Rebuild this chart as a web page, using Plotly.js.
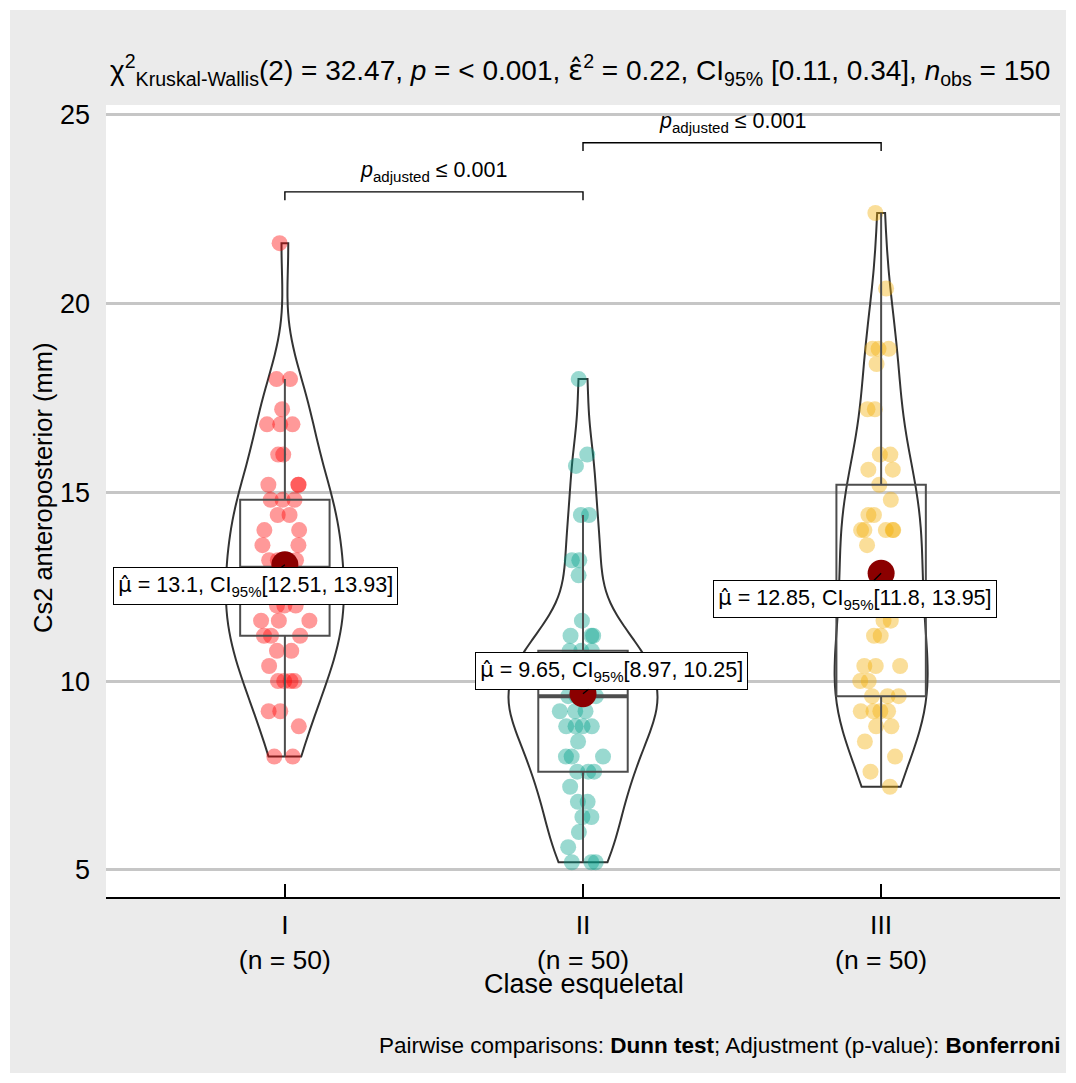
<!DOCTYPE html>
<html><head><meta charset="utf-8">
<script src="https://cdn.plot.ly/plotly-3.0.1.min.js"></script>
<style>html,body{margin:0;padding:0;background:#fff}</style>
</head><body><div id="chart" style="width:1076px;height:1083px"></div>
<script>
// ---------- data ----------
const categories = ['I', 'II', 'III'];
const groupN = [50, 50, 50];
const classI = [21.6, 18.0, 18.0, 17.2, 16.8, 16.8, 16.8, 16.0, 16.0, 15.2, 15.2, 15.2, 14.8, 14.8, 14.8,
  14.4, 14.4, 14.0, 14.0, 13.6, 13.6, 13.2, 13.2, 13.2, 13.2, 12.8, 12.8, 12.4, 12.4, 12.0, 12.0, 12.0,
  11.6, 11.6, 11.6, 11.2, 11.2, 11.2, 10.8, 10.8, 10.4, 10.0, 10.0, 10.0, 10.0, 9.2, 9.2, 8.8, 8.0, 8.0];
const classII = [18.0, 16.0, 15.7, 14.4, 14.4, 13.2, 13.2, 12.8, 11.6, 11.2, 11.2, 11.2, 10.8, 10.8, 10.8,
  10.4, 10.4, 10.4, 10.0, 10.0, 10.0, 9.6, 9.6, 9.6, 9.6, 9.6, 9.2, 9.2, 9.2, 8.8, 8.8, 8.8, 8.8, 8.4,
  8.0, 8.0, 8.0, 7.6, 7.6, 7.6, 7.2, 6.8, 6.8, 6.4, 6.4, 6.0, 5.6, 5.2, 5.2, 5.2];
const classIII = [22.4, 20.4, 18.8, 18.8, 18.8, 18.4, 17.2, 17.2, 16.0, 16.0, 15.6, 15.6, 15.2, 14.8, 14.4,
  14.4, 14.0, 14.0, 14.0, 14.0, 14.0, 13.6, 12.8, 12.4, 12.4, 12.4, 12.0, 12.0, 11.6, 11.6, 11.2, 11.2,
  10.4, 10.4, 10.4, 10.0, 10.0, 9.6, 9.6, 9.6, 9.2, 9.2, 9.2, 9.2, 8.8, 8.8, 8.4, 8.0, 7.6, 7.2];
const meanText = ['13.1', '9.65', '12.85'];
const ciLow = ['12.51', '8.97', '11.8'];
const ciHigh = ['13.93', '10.25', '13.95'];
const comparisons = [[0, 1], [1, 2]];
const comparisonText = ['≤ 0.001', '≤ 0.001'];
const bracketY = [22.96, 24.26];
const yTicks = [5, 10, 15, 20, 25];
const HAT = s => '<span style="font-family:\'DejaVu Sans\'">' + s + '</span>';
const titleText = 'χ<sup>2</sup><sub>Kruskal-Wallis</sub>(2) = 32.47, <i>p</i> = &lt; 0.001, ' + HAT('ε̂') +
  '<sup>2</sup> = 0.22, CI<sub>95%</sub> [0.11, 0.34], <i>n</i><sub>obs</sub> = 150';
const captionText = 'Pairwise comparisons: <b>Dunn test</b>; Adjustment (p-value): <b>Bonferroni</b>';
const xTitle = 'Clase esqueletal';
const yTitle = 'Cs2 anteroposterior (mm)';

// ---------- style ----------
const groups = [classI, classII, classIII];
const colors = ['#FF0000', '#00A08A', '#F2AD00'];
const FONT = 'Liberation Sans, Arial, sans-serif';
const W = 1076, H = 1083, ML = 106, MR = 16, MT = 105, MB = 186;
const PW = W - ML - MR, PH = H - MT - MB;
const px = x => (x - ML) / PW;
const py = y => (H - MB - y) / PH;

function sorted(a) { return a.slice().sort((p, q) => p - q); }
function q7(a, p) { const s = sorted(a); const h = (s.length - 1) * p; const lo = Math.floor(h); return s[lo] + (h - lo) * ((s[Math.min(lo + 1, s.length - 1)]) - s[lo]); }
function mean(a) { return a.reduce((s, v) => s + v, 0) / a.length; }
function sd(a) { const m = mean(a); return Math.sqrt(a.reduce((s, v) => s + (v - m) * (v - m), 0) / (a.length - 1)); }
function nrd0(a) { return 0.9 * Math.min(sd(a), (q7(a, 0.75) - q7(a, 0.25)) / 1.34) * Math.pow(a.length, -0.2); }
function kdeMax(a, bw) {
  const lo = Math.min(...a), hi = Math.max(...a); let m = 0;
  for (let k = 0; k <= 511; k++) {
    const t = lo + (hi - lo) * k / 511; let s = 0;
    a.forEach(v => { const z = (t - v) / bw; s += Math.exp(-0.5 * z * z); });
    m = Math.max(m, s / (a.length * bw * Math.sqrt(2 * Math.PI)));
  }
  return m;
}
const bws = groups.map(nrd0);
const kmax = groups.map((g, i) => kdeMax(g, bws[i]));
const kTop = Math.max(...kmax);

const traces = [];
// jittered points
groups.forEach((g, i) => {
  traces.push({
    type: 'box', x: g.map(() => i), y: g, width: 0.3,
    boxpoints: 'all', jitter: 0.62, pointpos: 0,
    line: { width: 0, color: 'rgba(0,0,0,0)' }, fillcolor: 'rgba(0,0,0,0)',
    marker: { color: colors[i], opacity: 0.4, size: 16, line: { width: 0 } },
    showlegend: false, hoverinfo: 'skip'
  });
});
// boxes
groups.forEach((g, i) => {
  traces.push({
    type: 'box', x: g.map(() => i), y: g, width: 0.3, quartilemethod: 'exclusive',
    boxpoints: 'outliers', whiskerwidth: 0,
    line: { width: 2, color: '#4D4D4D' }, fillcolor: 'rgba(0,0,0,0)',
    marker: { opacity: 0, size: 1 },
    showlegend: false, hoverinfo: 'skip'
  });
  const med = q7(g, 0.5);
  traces.push({
    type: 'scatter', mode: 'lines', x: [i - 0.15, i + 0.15], y: [med, med],
    line: { color: '#4D4D4D', width: 4 }, showlegend: false, hoverinfo: 'skip'
  });
});
// violins (area-scaled like ggplot: widest density gets width 0.5)
groups.forEach((g, i) => {
  traces.push({
    type: 'violin', x: g.map(() => i), y: g, width: 0.5 * kmax[i] / kTop,
    scalemode: 'width', scalegroup: 'v' + i, spanmode: 'hard', bandwidth: bws[i],
    points: false, box: { visible: false }, meanline: { visible: false },
    line: { color: '#333333', width: 2 }, fillcolor: 'rgba(255,255,255,0)',
    showlegend: false, hoverinfo: 'skip'
  });
});
// brackets
comparisons.forEach((c, k) => {
  const y = bracketY[k];
  traces.push({
    type: 'scatter', mode: 'lines', x: [c[0], c[0], c[1], c[1]], y: [y - 0.22, y, y, y - 0.22],
    line: { color: '#000', width: 1.4 }, showlegend: false, hoverinfo: 'skip'
  });
});
// means
const means = groups.map(mean);
traces.push({
  type: 'scatter', mode: 'markers', x: [0, 1, 2], y: means,
  marker: { color: '#8B0000', size: 27 }, showlegend: false, hoverinfo: 'skip'
});

const labelOffsets = [[-29, 21], [28, -23], [-26, 26]];
const annotations = [];
means.forEach((m, i) => {
  annotations.push({
    x: i, y: m, xref: 'x', yref: 'y',
    text: HAT('μ̂') + ' = ' + meanText[i] + ', CI<sub>95%</sub>[' + ciLow[i] + ', ' + ciHigh[i] + ']',
    showarrow: true, arrowhead: 0, arrowwidth: 1.3, arrowcolor: '#000', standoff: 0,
    ax: labelOffsets[i][0], ay: labelOffsets[i][1],
    bgcolor: '#fff', bordercolor: '#000', borderwidth: 1, borderpad: 4,
    font: { family: FONT, size: 21.5, color: '#000' }
  });
});
comparisons.forEach((c, k) => {
  annotations.push({
    x: (c[0] + c[1]) / 2, y: bracketY[k], xref: 'x', yref: 'y', yanchor: 'bottom', yshift: 5,
    showarrow: false, text: '<i>p</i><sub>adjusted</sub> ' + comparisonText[k],
    font: { family: FONT, size: 21.5, color: '#000' }
  });
});
annotations.push({ xref: 'paper', yref: 'paper', x: px(580), y: py(70), xanchor: 'center', yanchor: 'middle',
  showarrow: false, text: titleText, font: { family: FONT, size: 28, color: '#000' } });
annotations.push({ xref: 'paper', yref: 'paper', x: px(43), y: py(488), xanchor: 'center', yanchor: 'middle',
  showarrow: false, textangle: -90, text: yTitle, font: { family: FONT, size: 25.5, color: '#000' } });
annotations.push({ xref: 'paper', yref: 'paper', x: px(584), y: py(984), xanchor: 'center', yanchor: 'middle',
  showarrow: false, text: xTitle, font: { family: FONT, size: 27, color: '#000' } });
annotations.push({ xref: 'paper', yref: 'paper', x: px(1062), y: py(1045), xanchor: 'right', yanchor: 'middle',
  showarrow: false, text: captionText, font: { family: FONT, size: 22.5, color: '#000' } });

const layout = {
  width: W, height: H, margin: { l: ML, r: MR, t: MT, b: MB, pad: 0 },
  paper_bgcolor: '#ffffff', plot_bgcolor: 'rgba(0,0,0,0)',
  showlegend: false, hovermode: false, boxmode: 'overlay', violinmode: 'overlay',
  font: { family: FONT, color: '#000' },
  xaxis: {
    range: [-0.6, 2.6], tickvals: [0, 1, 2],
    ticktext: categories.map((c, i) => c + '<br>(n = ' + groupN[i] + ')'),
    showgrid: false, zeroline: false, showline: true, linecolor: '#000', linewidth: 1.6,
    ticks: 'inside', ticklen: 13, tickwidth: 1.6, tickcolor: '#000', ticklabelstandoff: 4,
    tickfont: { family: FONT, size: 26.5, color: '#000' }
  },
  yaxis: {
    range: [4.28, 25.26], tickvals: yTicks, showgrid: true, gridcolor: '#C6C6C6', gridwidth: 3,
    zeroline: false, showline: false, ticks: '', ticklabelstandoff: 15,
    tickfont: { family: FONT, size: 27, color: '#000' }
  },
  shapes: [
    { type: 'rect', xref: 'paper', yref: 'paper', x0: px(10), x1: px(1066), y0: py(1073), y1: py(10),
      fillcolor: '#EBEBEB', line: { width: 0 }, layer: 'below' },
    { type: 'rect', xref: 'paper', yref: 'paper', x0: 0, x1: 1, y0: 0, y1: 1,
      fillcolor: '#FFFFFF', line: { width: 0 }, layer: 'below' }
  ],
  annotations: annotations
};
Plotly.newPlot('chart', traces, layout, { staticPlot: true, displayModeBar: false });
</script></body></html>
